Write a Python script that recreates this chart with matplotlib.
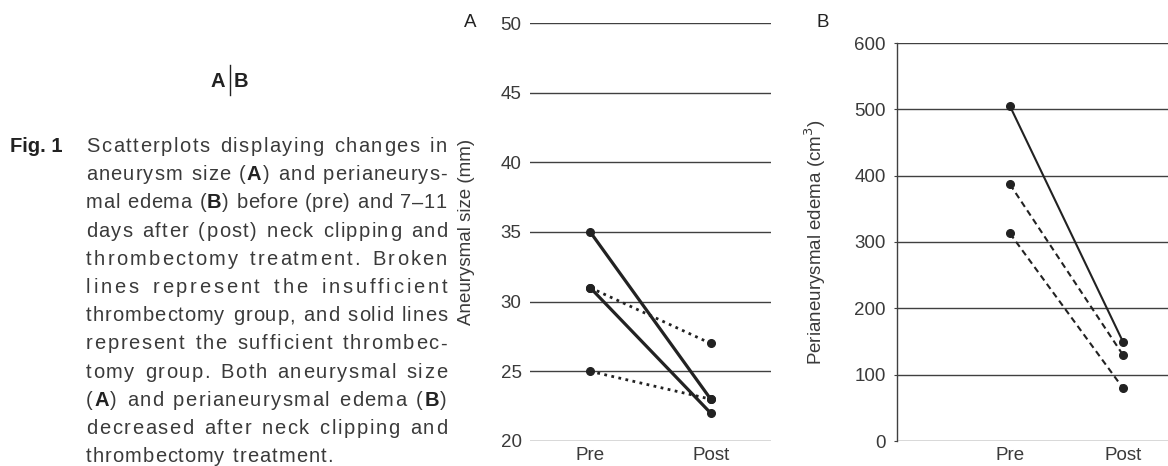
import re
import matplotlib
matplotlib.use('Agg')
import matplotlib.pyplot as plt
from matplotlib.lines import Line2D
from matplotlib.font_manager import FontProperties, findfont, get_font

plt.rcParams['font.family'] = ['Liberation Sans', 'DejaVu Sans']

# values
groups = ['Pre', 'Post']
size_solid = [[35, 23], [31, 22]]
size_dotted = [[31, 27], [25, 23]]
edema_solid = [[505, 150]]
edema_dashed = [[387, 130], [313, 80]]
size_ticks = [20, 25, 30, 35, 40, 45, 50]
edema_ticks = [0, 100, 200, 300, 400, 500, 600]

caption_lines = [
    "Scatterplots displaying changes in",
    "aneurysm size (*A*) and perianeurys-",
    "mal edema (*B*) before (pre) and 7\u201311",
    "days after (post) neck clipping and",
    "thrombectomy treatment. Broken",
    "lines represent the insufficient",
    "thrombectomy group, and solid lines",
    "represent the sufficient thrombec-",
    "tomy group. Both aneurysmal size",
    "(*A*) and perianeurysmal edema (*B*)",
    "decreased after neck clipping and",
    "thrombectomy treatment.",
]

W, H = 1168, 466
fig = plt.figure(figsize=(W / 100, H / 100), dpi=100)
ink = '#222222'
grid_c = '#404040'
txt_c = '#3a3a3a'
fs = 13.5


def px_axes(x0, y_top, x1, y_bot):
    return fig.add_axes([x0 / W, 1 - y_bot / H, (x1 - x0) / W, (y_bot - y_top) / H])


def style(ax, ticks, with_spine):
    ax.set_yticks(ticks)
    ax.set_ylim(ticks[0], ticks[-1])
    ax.set_xticks([1, 2])
    ax.set_xticklabels(groups)
    for s in ['top', 'right', 'bottom']:
        ax.spines[s].set_visible(False)
    ax.spines['left'].set_visible(with_spine)
    ax.spines['left'].set_color(grid_c)
    ax.spines['left'].set_linewidth(1.0)
    ax.yaxis.grid(True, color=grid_c, linewidth=1.0)
    ax.set_axisbelow(True)
    ax.tick_params(axis='x', length=0, pad=4, labelsize=fs, labelcolor=txt_c)
    ax.tick_params(axis='y', length=2 if with_spine else 0, pad=6,
                   labelsize=fs, labelcolor=txt_c, color=grid_c)


# panel A
axA = px_axes(530, 23, 771, 441)
style(axA, size_ticks, False)
axA.set_xlim(0.5, 2.5)
for ys in size_solid:
    axA.plot([1, 2], ys, color=ink, lw=2.3, marker='o', ms=5.5, zorder=3)
for ys in size_dotted:
    axA.plot([1, 2], ys, color=ink, lw=2.0, ls=(0, (1, 1.6)), marker='o', ms=5.5, zorder=3)
axA.set_ylabel('Aneurysmal size (mm)', fontsize=fs, color=txt_c)
axA.yaxis.set_label_coords((475 - 530) / 241, 0.5)

# panel B
axB = px_axes(897, 43, 1168, 441)
style(axB, edema_ticks, True)
axB.set_xlim(0, 2.4)
for ys in edema_solid:
    axB.plot([1, 2], ys, color=ink, lw=1.5, marker='o', ms=5.5, zorder=3)
for ys in edema_dashed:
    axB.plot([1, 2], ys, color=ink, lw=1.5, ls=(0, (3, 2)), marker='o', ms=5.5, zorder=3)
axB.set_ylabel('Perianeurysmal edema (cm$^3$)', fontsize=fs, color=txt_c)
axB.yaxis.set_label_coords((828 - 897) / 271, 0.5)

fig.text(470 / W, 1 - 27 / H, 'A', fontsize=fs, color=ink, ha='center', va='baseline')
fig.text(823 / W, 1 - 27 / H, 'B', fontsize=fs, color=ink, ha='center', va='baseline')

# "A|B" key
cfs = 14.5
fig.text(225 / W, 1 - 87 / H, 'A', fontsize=cfs, fontweight='bold', color=ink, ha='right', va='baseline')
fig.text(234 / W, 1 - 87 / H, 'B', fontsize=cfs, fontweight='bold', color=ink, ha='left', va='baseline')
fig.add_artist(Line2D([229.5 / W, 229.5 / W], [1 - 65 / H, 1 - 95 / H], color=ink, lw=1.0,
                      transform=fig.transFigure))

# caption: justified by spreading letters and spaces
fig.text(10.5 / W, 1 - 152 / H, 'Fig. 1', fontsize=cfs, fontweight='bold', color=ink, va='baseline')

fonts = {}
for wt in ['normal', 'bold']:
    f = get_font(findfont(FontProperties(family='Liberation Sans', weight=wt)))
    f.set_size(cfs, 100)
    fonts[wt] = f


def advance(ch, wt):
    g = fonts[wt].load_char(ord(ch))
    return g.linearHoriAdvance / 65536


x_left, x_right = 86, 447
y0, step = 152, 28.2
for i, line in enumerate(caption_lines):
    chars = []
    for p in [p for p in re.split(r'(\*[^*]+\*)', line) if p]:
        wt = 'bold' if p.startswith('*') else 'normal'
        for ch in p.strip('*'):
            chars.append((ch, wt))
    natural = sum(advance(c, w) for c, w in chars)
    last = i == len(caption_lines) - 1
    n_sp = sum(1 for c, _ in chars if c == ' ')
    n_gap = len(chars) - 1 - 2 * n_sp
    if last:
        unit = 1.0
    else:
        unit = (x_right - x_left - natural) / (n_gap + 3 * n_sp)
    x = x_left
    y = 1 - (y0 + i * step) / H
    for k, (ch, wt) in enumerate(chars):
        if ch != ' ':
            fig.text(x / W, y, ch, fontsize=cfs, fontweight=wt,
                     color=ink if wt == 'bold' else txt_c, va='baseline')
        x += advance(ch, wt)
        if k < len(chars) - 1:
            nxt = chars[k + 1][0]
            if ch == ' ':
                x += 2 * unit
            elif nxt == ' ':
                x += 1 * unit
            else:
                x += unit

fig.savefig('out.png', dpi=100)
